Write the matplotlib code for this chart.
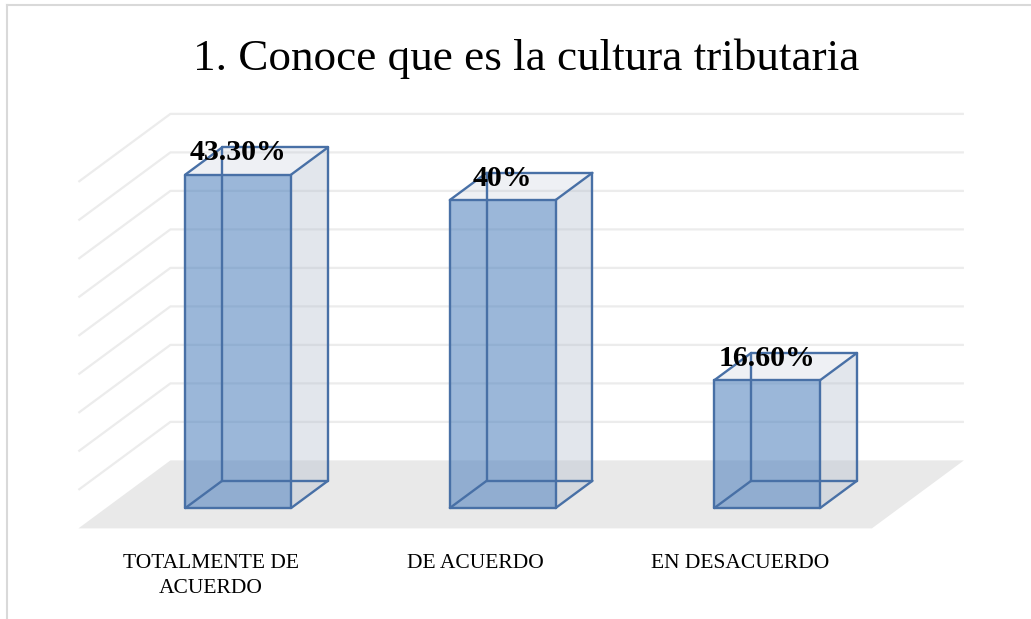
import numpy as np
import matplotlib
matplotlib.use('Agg')
import matplotlib.pyplot as plt
from matplotlib.patches import Polygon
from matplotlib.lines import Line2D

categories = ['TOTALMENTE DE\nACUERDO', 'DE ACUERDO', 'EN DESACUERDO']
values = [43.3, 40.0, 16.6]
value_labels = ['43.30%', '40%', '16.60%']
grid_ticks = [5, 10, 15, 20, 25, 30, 35, 40, 45]
title = '1. Conoce que es la cultura tributaria'

W, H = 1031, 619
PX_CAT = 264.5      # pixels per category
PX_PCT = 7.7        # pixels per percent
DX = 92 / PX_CAT    # full floor depth, in category units
DY = 68 / PX_PCT    # full floor depth, in percent units
BAR_HALF = 0.2
Z0, Z1 = 0.3, 0.7   # bar depth range
FRONT_X, FRONT_Y = 106, 508  # pixel of (x=-0.5, v=0) on the bar front plane

def proj(x, v, z):
    return x + z * DX, v + z * DY

fig = plt.figure(figsize=(W / 100, H / 100), dpi=100)
ax = fig.add_axes([0, 0, 1, 1])
ax.axis('off')
x_left = Z0 * DX - 0.5 - FRONT_X / PX_CAT
ax.set_xlim(x_left, x_left + W / PX_CAT)
y_bot = Z0 * DY - (H - FRONT_Y) / PX_PCT
ax.set_ylim(y_bot, y_bot + H / PX_PCT)

n = len(categories)
xa, xb = -0.5, n - 0.5

# floor
floor = [proj(xa, 0, 0), proj(xb, 0, 0), proj(xb, 0, 1), proj(xa, 0, 1)]
ax.add_patch(Polygon(floor, closed=True, facecolor='#e9e9e9', edgecolor='none', zorder=1))

# gridlines on back and left wall
for t in grid_ticks:
    pts = [proj(xa, t, 0), proj(xa, t, 1), proj(xb, t, 1)]
    ax.plot([p[0] for p in pts], [p[1] for p in pts], color='#ececec', lw=1.6,
            solid_capstyle='butt', zorder=2)

edge = '#4870a6'
for i, (val, lab) in enumerate(zip(values, value_labels)):
    x0, x1 = i - BAR_HALF, i + BAR_HALF
    c = {}
    for xn, xv in (('l', x0), ('r', x1)):
        for vn, vv in (('b', 0), ('t', val)):
            for zn, zv in (('f', Z0), ('k', Z1)):
                c[xn + vn + zn] = proj(xv, vv, zv)
    # faces
    right = [c['rbf'], c['rbk'], c['rtk'], c['rtf']]
    top = [c['ltf'], c['rtf'], c['rtk'], c['ltk']]
    front = [c['lbf'], c['rbf'], c['rtf'], c['ltf']]
    ax.add_patch(Polygon(right, facecolor='#b4bece', alpha=0.38, edgecolor='none', zorder=3))
    ax.add_patch(Polygon(top, facecolor='#b4bece', alpha=0.22, edgecolor='none', zorder=3))
    ax.add_patch(Polygon(front, facecolor='#4f81bd', alpha=0.57, edgecolor='none', zorder=4))
    # edges
    pairs = [('lbf', 'rbf'), ('rbf', 'rtf'), ('rtf', 'ltf'), ('ltf', 'lbf'),
             ('lbk', 'rbk'), ('rbk', 'rtk'), ('rtk', 'ltk'), ('ltk', 'lbk'),
             ('lbf', 'lbk'), ('rbf', 'rbk'), ('rtf', 'rtk'), ('ltf', 'ltk')]
    for a, b in pairs:
        ax.plot([c[a][0], c[b][0]], [c[a][1], c[b][1]], color=edge, lw=1.7,
                solid_capstyle='round', zorder=5)
    lx, _ = proj(i, val, Z0)
    _, ly = proj(i, val, Z1)
    ax.text(lx, ly - 0.7, lab, ha='center', va='center', fontsize=21.5,
            fontweight='bold', family='Liberation Serif', color='black', zorder=6)

# category labels
for i, cat in enumerate(categories):
    px, py = proj(i, 0, 0)
    ax.annotate(cat, (px, py), xytext=(0, -18.5), textcoords='offset points',
                ha='center', va='top', fontsize=15.5, family='Liberation Serif',
                linespacing=1.4, multialignment='center')

fig.text(0.51, 1 - 70 / H, title, ha='center', va='baseline', fontsize=32.5,
         family='Liberation Serif')

# chart border (top and left visible)
fig.add_artist(Line2D([6.5 / W, 1], [1 - 4.5 / H, 1 - 4.5 / H], color='#d9d9d9', lw=1.5))
fig.add_artist(Line2D([6.5 / W, 6.5 / W], [0, 1 - 4.5 / H], color='#d9d9d9', lw=1.5))

fig.savefig('out.png', dpi=100)
